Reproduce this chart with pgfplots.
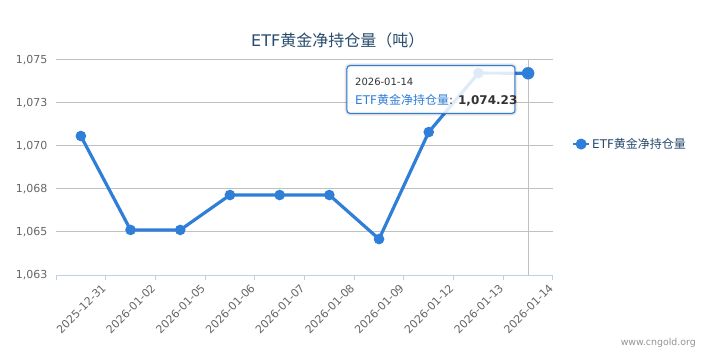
\documentclass[border=0pt]{standalone}
\usepackage{fontspec}
\setmainfont{DejaVu Sans}
\newfontfamily\cjk{Noto Sans CJK SC}
\usepackage{pgfplots}
\usepackage{pgfplotstable}
\pgfplotsset{compat=1.18}
\definecolor{ser}{HTML}{2F7ED8}
\definecolor{titlec}{HTML}{274B6D}
\definecolor{lab}{HTML}{666666}
\definecolor{gridc}{HTML}{C0C0C0}
\definecolor{axc}{HTML}{C0D0E0}

\pgfplotstableread{
x y
0 1070.58
1 1065.12
2 1065.12
3 1067.15
4 1067.15
5 1067.15
6 1064.59
7 1070.81
8 1074.24
9 1074.23
}\etf

\begin{document}
\begin{tikzpicture}
\path[use as bounding box] (-56bp,-87bp) rectangle (650bp,275bp);
\begin{axis}[
  at={(0,0)}, anchor=south west,
  scale only axis, width=497bp, height=215bp,
  xmin=-0.5, xmax=9.5, ymin=1062.5, ymax=1075,
  clip=false,
  axis line style={draw=none},
  xtick={-0.5,0.5,1.5,2.5,3.5,4.5,5.5,6.5,7.5,8.5,9.5},
  xticklabels={{},2025-12-31,2026-01-02,2026-01-05,2026-01-06,2026-01-07,2026-01-08,2026-01-09,2026-01-12,2026-01-13,2026-01-14},
  ytick={1062.5,1065,1067.5,1070,1072.5,1075},
  yticklabels={{1,063},{1,065},{1,068},{1,070},{1,073},{1,075}},
  xtick pos=bottom, xtick align=outside,
  major tick length=5bp,
  x tick style={color=axc, line width=1bp},
  y tick style={draw=none},
  ymajorgrids, grid style={color=gridc, line width=1bp},
  tick label style={font=\fontsize{11bp}{13bp}\selectfont, text=lab},
  yticklabel style={anchor=east, inner sep=0pt, xshift=-8.5bp},
  xticklabel style={inner sep=0pt, xshift=-5bp, yshift=-3bp, rotate=45, anchor=north east},
  legend style={at={(1.0382,0.609)}, anchor=west, draw=none, fill=none,
    font=\fontsize{12bp}{14bp}\selectfont, text=titlec, inner sep=0pt,
    legend cell align=left},
  legend image code/.code={\draw[ser, line width=2bp] (0bp,0bp) -- (16bp,0bp); \fill[ser] (8bp,0bp) circle (3.8bp);},
]
\draw[axc, line width=1bp] (rel axis cs:0,0) -- (rel axis cs:1,0);
\draw[gridc, line width=1bp] (axis cs:9,1062.5) -- (axis cs:9,1075);
\addplot[ser, line width=3.2bp, mark=*, mark size=3.6bp, mark options={solid, fill=ser, draw=none}] table[x=x,y=y]{\etf};
\addlegendentry{ETF{\cjk 黄金净持仓量}}
\addplot[ser, only marks, mark=*, mark size=6bp, mark options={fill=ser, draw=none}, forget plot] coordinates {(9,1074.23)};
\coordinate (tA) at (axis cs:5.355,1074.67);
\coordinate (tB) at (axis cs:8.735,1071.90);
\coordinate (tH) at (axis cs:5.516,1073.72);
\coordinate (tP) at (axis cs:5.516,1072.67);
% title
\node[anchor=west, inner sep=0pt, font=\fontsize{16bp}{19bp}\selectfont, text=titlec] at (rel axis cs:0.3924,1.093) {ETF{\cjk 黄金净持仓量（吨）}};
% credits
\node[anchor=east, inner sep=0pt, font=\fontsize{9.4bp}{11bp}\selectfont, text=gray!85] at (rel axis cs:1.2877,-0.316) {www.cngold.org};
\end{axis}
% tooltip
\draw[rounded corners=3bp, black, draw opacity=0.05, line width=5bp, xshift=1bp, yshift=-1bp] (tA) rectangle (tB);
\draw[rounded corners=3bp, black, draw opacity=0.1, line width=3bp, xshift=1bp, yshift=-1bp] (tA) rectangle (tB);
\draw[rounded corners=3bp, black, draw opacity=0.15, line width=1bp, xshift=1bp, yshift=-1bp] (tA) rectangle (tB);
\draw[rounded corners=3bp, fill=white, fill opacity=0.85, draw=ser, line width=1bp] (tA) rectangle (tB);
\node[anchor=west, inner sep=0pt, font=\fontsize{10bp}{12bp}\selectfont, text=black!80] at (tH) {2026-01-14};
\node[anchor=west, inner sep=0pt, font=\fontsize{12bp}{14bp}\selectfont, text=black!80] at (tP) {\textcolor{ser}{ETF{\cjk 黄金净持仓量}}: \textbf{1,074.23}};
\end{tikzpicture}
\end{document}
